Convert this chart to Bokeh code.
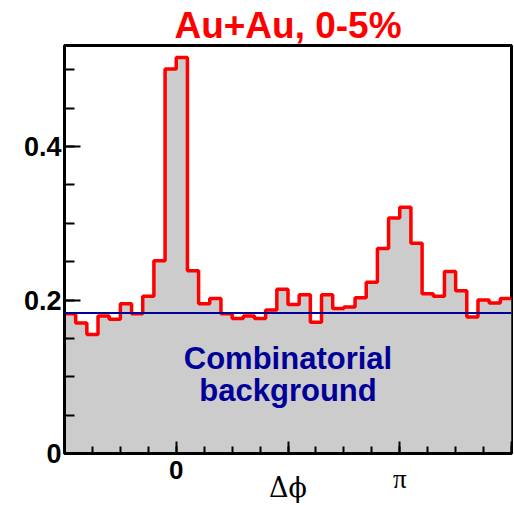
import math
from bokeh.plotting import figure
from bokeh.models import FixedTicker, Span
from bokeh.core.properties import value
from bokeh.embed import file_html
from bokeh.resources import INLINE

# ---- data ----
n_bins = 40
phi_min = -math.pi / 2
phi_max = 3 * math.pi / 2
counts = [0.182, 0.170, 0.155, 0.179, 0.175, 0.195, 0.182, 0.205, 0.251, 0.501,
          0.516, 0.238, 0.195, 0.202, 0.182, 0.176, 0.179, 0.176, 0.187, 0.214,
          0.194, 0.207, 0.171, 0.207, 0.189, 0.191, 0.203, 0.223, 0.267, 0.307,
          0.321, 0.274, 0.208, 0.205, 0.237, 0.212, 0.178, 0.200, 0.196, 0.202]
background_level = 0.183
y_max = 0.5316
y_major = [0, 0.2, 0.4]
y_labels = {0: "0", 0.2: "0.2", 0.4: "0.4"}
x_major = [-math.pi / 2, 0, math.pi / 2, math.pi, 3 * math.pi / 2]
x_minor = [k * math.pi / 8 for k in range(-4, 13)]
x_labels = {-math.pi / 2: "", 0: "0", math.pi / 2: "", math.pi: "", 3 * math.pi / 2: ""}
pi_label = "π"
x_axis_label = "Δϕ"
title_text = "Au+Au, 0-5%"
bg_text = ["Combinatorial", "background"]

width_bin = (phi_max - phi_min) / n_bins
edges = [phi_min + i * width_bin for i in range(n_bins + 1)]
step_y = counts + [counts[-1]]

p = figure(width=514, height=505, x_range=(phi_min, phi_max), y_range=(0, y_max),
           output_backend="svg", toolbar_location=None,
           min_border_left=64, min_border_right=3, min_border_top=45, min_border_bottom=52)
p.grid.visible = False
p.outline_line_color = "black"
p.outline_line_width = 3
p.background_fill_color = "white"

# title
p.title.text = title_text
p.title.align = "center"
p.title.text_font = "Liberation Sans"
p.title.text_font_style = "bold"
p.title.text_font_size = "37px"
p.title.text_color = "#ff0000"
p.title.standoff = 0

# histogram fill and outline
p.varea_step(x=edges, y1=[0] * len(edges), y2=step_y, step_mode="after", fill_color="#cccccc")
p.step(x=edges, y=step_y, mode="after", line_color="#ff0000", line_width=3.5)

# background line
p.add_layout(Span(location=background_level, dimension="width",
                  line_color="#000099", line_width=2))

# axes
xa = p.xaxis[0]
xa.ticker = FixedTicker(ticks=x_major, minor_ticks=x_minor)
xa.major_label_overrides = x_labels
xa.major_label_text_font = "Liberation Sans"
xa.major_label_text_font_style = "bold"
xa.major_label_text_font_size = "26px"
xa.major_label_text_color = "black"
xa.major_label_standoff = 7
xa.axis_label = x_axis_label
xa.axis_label_text_font = "DejaVu Serif"
xa.axis_label_text_font_style = "normal"
xa.axis_label_text_font_size = "27px"
xa.axis_label_text_color = "black"
xa.axis_label_standoff = -10
xa.axis_line_width = 3
xa.axis_line_color = "black"
xa.major_tick_in = 12
xa.major_tick_out = 0
xa.minor_tick_in = 7
xa.minor_tick_out = 0
xa.major_tick_line_width = 2
xa.minor_tick_line_width = 2
xa.major_tick_line_color = "black"
xa.minor_tick_line_color = "black"

ya = p.yaxis[0]
ya.ticker = FixedTicker(ticks=y_major, minor_ticks=[k * 0.05 for k in range(0, 11)])
ya.major_label_overrides = y_labels
ya.major_label_text_font = "Liberation Sans"
ya.major_label_text_font_style = "bold"
ya.major_label_text_font_size = "27px"
ya.major_label_text_color = "black"
ya.major_label_standoff = 3
ya.axis_line_width = 3
ya.axis_line_color = "black"
ya.major_tick_in = 16
ya.major_tick_out = 0
ya.minor_tick_in = 10
ya.minor_tick_out = 0
ya.major_tick_line_width = 2
ya.minor_tick_line_width = 2
ya.major_tick_line_color = "black"
ya.minor_tick_line_color = "black"

# pi tick label (serif, drawn unclipped at overlay level)
p.text(x=[math.pi], y=[-0.033], text=[pi_label], text_align="center", text_baseline="alphabetic",
       text_font=value("Liberation Serif"), text_font_size="27px", text_color="black",
       level="overlay")

# background annotation
for txt, yy in zip(bg_text, [0.1238, 0.0821]):
    p.text(x=[math.pi / 2], y=[yy], text=[txt], text_align="center",
           text_baseline="alphabetic", text_font=value("Liberation Sans"),
           text_font_style="bold", text_font_size="31px", text_color="#000099")

open("out.html", "w").write(file_html(p, INLINE))
